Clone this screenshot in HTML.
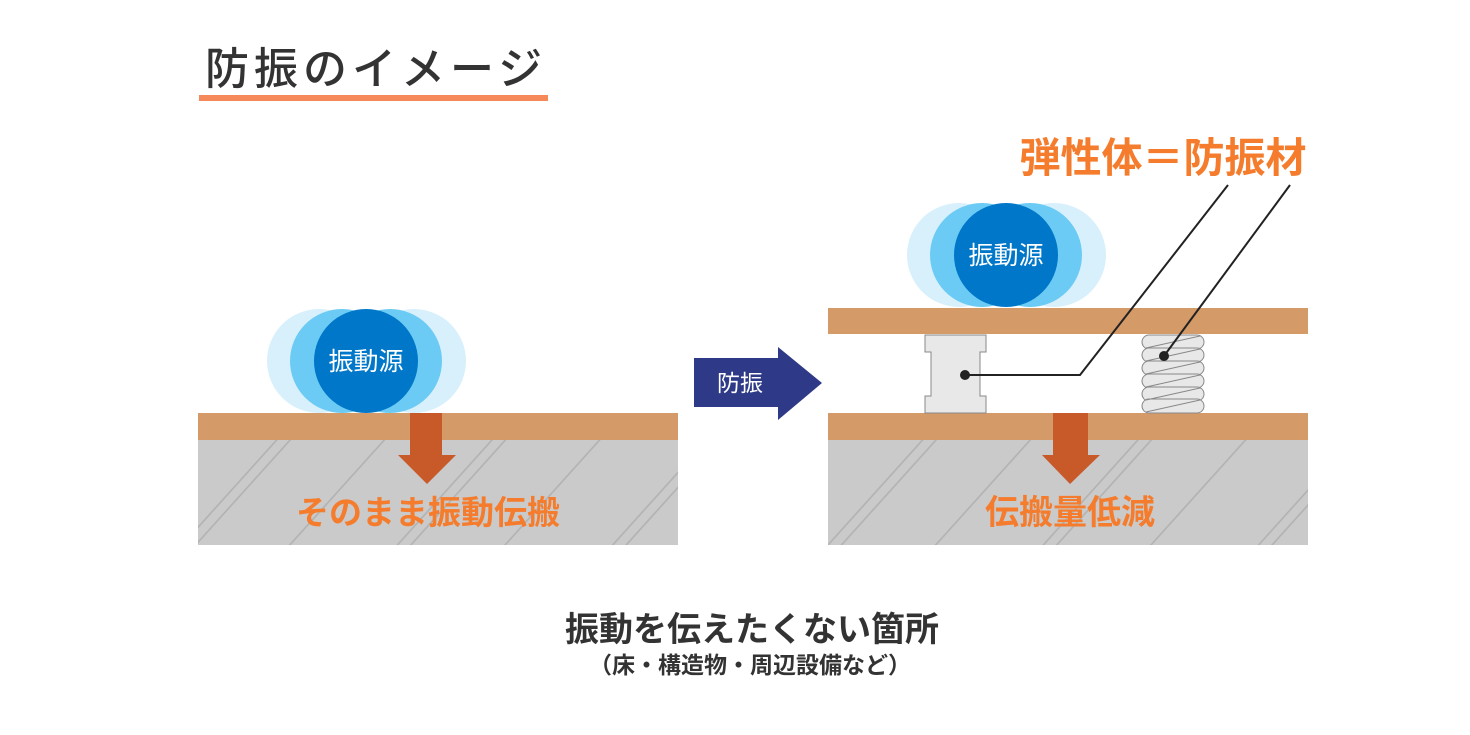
<!DOCTYPE html>
<html><head><meta charset="utf-8"><style>
html,body{margin:0;padding:0;background:#fff;}
svg{display:block;}
text{font-family:"Liberation Sans","Noto Sans CJK JP",sans-serif;}
</style></head><body>
<svg width="1470" height="735" viewBox="0 0 1470 735" xmlns="http://www.w3.org/2000/svg">
<defs>
<pattern id="h" patternUnits="userSpaceOnUse" width="160" height="160" patternTransform="rotate(-48)">
<rect width="160" height="160" fill="#cacaca"/>
<line x1="0" y1="20" x2="160" y2="20" stroke="#b0b0b0" stroke-width="1.5"/>
<line x1="0" y1="30" x2="160" y2="30" stroke="#b0b0b0" stroke-width="1.5"/>
<line x1="0" y1="100" x2="160" y2="100" stroke="#b0b0b0" stroke-width="1.5"/>
</pattern>
</defs>
<text x="205" y="84" font-size="44" font-weight="500" fill="#333" letter-spacing="5">防振のイメージ</text>
<rect x="199" y="95" width="349" height="6" fill="#f5895a"/>

<!-- left -->
<g>
<circle cx="319" cy="361" r="52" fill="#d8f0fc"/><circle cx="414" cy="361" r="52" fill="#d8f0fc"/>
<circle cx="342" cy="361" r="52" fill="#6ccbf4"/><circle cx="390" cy="361" r="52" fill="#6ccbf4"/>
<circle cx="366" cy="361" r="52" fill="#0077c8"/>
<text x="366" y="370" font-size="25" fill="#fff" text-anchor="middle">振動源</text>
<rect x="198" y="413" width="480" height="27" fill="#d49a68"/>
<rect x="198" y="440" width="480" height="105" fill="url(#h)"/>
<path d="M410 413H442V455H456L427 484L398 455H410Z" fill="#c85a2a"/>
<text x="428" y="524" font-size="33" font-weight="bold" fill="#f47c2c" text-anchor="middle">そのまま振動伝搬</text>
</g>

<!-- middle arrow -->
<path d="M694 358H778V347L822 383L778 420V407H694Z" fill="#2e3a87"/>
<text x="740" y="391" font-size="23" fill="#fff" text-anchor="middle">防振</text>

<!-- right -->
<g>
<circle cx="959" cy="255" r="52" fill="#d8f0fc"/><circle cx="1054" cy="255" r="52" fill="#d8f0fc"/>
<circle cx="982" cy="255" r="52" fill="#6ccbf4"/><circle cx="1030" cy="255" r="52" fill="#6ccbf4"/>
<circle cx="1006" cy="255" r="52" fill="#0077c8"/>
<text x="1006" y="264" font-size="25" fill="#fff" text-anchor="middle">振動源</text>
<rect x="828" y="308" width="480" height="26" fill="#d49a68"/>
<rect x="828" y="413" width="480" height="27" fill="#d49a68"/>
<rect x="828" y="440" width="480" height="105" fill="url(#h)"/>
<path d="M925 335H986V352H980V396H986V413H925V396H931V352H925Z" fill="#e8e8e8" stroke="#888" stroke-width="1"/>
<g fill="#e8e8e8" stroke="#888" stroke-width="1">
<rect x="1142" y="335" width="62" height="14" rx="7"/>
<rect x="1142" y="348" width="62" height="14" rx="7"/>
<rect x="1142" y="361" width="62" height="14" rx="7"/>
<rect x="1142" y="374" width="62" height="14" rx="7"/>
<rect x="1142" y="387" width="62" height="14" rx="7"/>
<rect x="1142" y="399" width="62" height="14" rx="7"/>
</g>
<g stroke="#888" stroke-width="1">
<line x1="1146" y1="348" x2="1200" y2="336"/><line x1="1146" y1="361" x2="1200" y2="349"/>
<line x1="1146" y1="374" x2="1200" y2="362"/><line x1="1146" y1="387" x2="1200" y2="375"/>
<line x1="1146" y1="400" x2="1200" y2="388"/><line x1="1146" y1="412" x2="1200" y2="400"/>
</g>
<polyline points="965,375 1080,375 1228,185" fill="none" stroke="#222" stroke-width="2"/>
<line x1="1164" y1="356" x2="1290" y2="185" stroke="#222" stroke-width="2"/>
<circle cx="965" cy="375" r="5" fill="#222"/><circle cx="1164" cy="356" r="5" fill="#222"/>
<path d="M1053 413H1088V455H1100L1070 484L1042 455H1053Z" fill="#c85a2a"/>
<text x="1070" y="524" font-size="34" font-weight="bold" fill="#f47c2c" text-anchor="middle">伝搬量低減</text>
<text x="1163" y="172" font-size="41" font-weight="bold" fill="#f47c2c" text-anchor="middle">弾性体＝防振材</text>
</g>

<text x="752" y="641" font-size="34" font-weight="bold" fill="#333" text-anchor="middle">振動を伝えたくない箇所</text>
<text x="750" y="673" font-size="23" font-weight="bold" fill="#333" text-anchor="middle">（床・構造物・周辺設備など）</text>
</svg>
</body></html>
